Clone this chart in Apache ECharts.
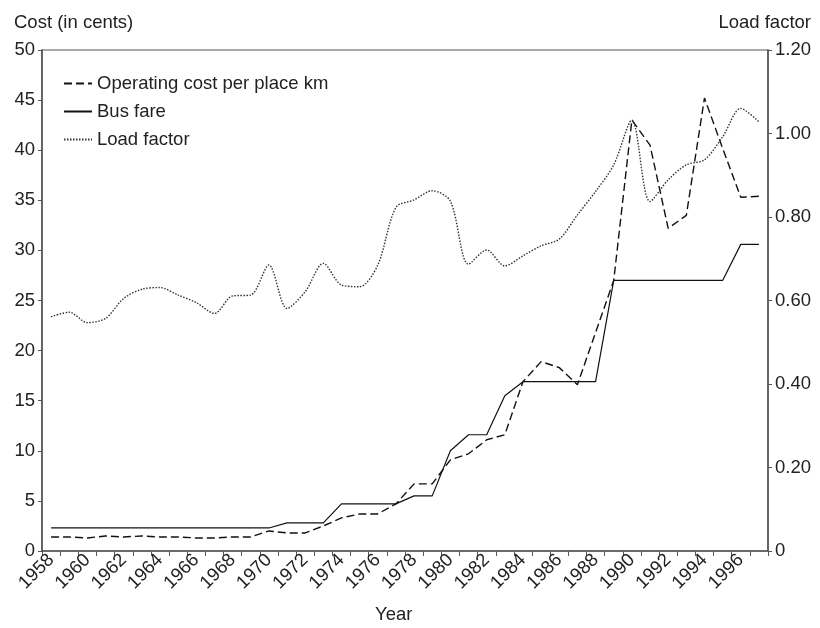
<!DOCTYPE html>
<html>
<head>
<meta charset="utf-8">
<script src="https://cdn.jsdelivr.net/npm/echarts@6/dist/echarts.min.js"></script>
<style>
html,body{margin:0;padding:0;background:#fff;}
#chart{width:820px;height:628px;}
</style>
</head>
<body>
<div id="chart"></div>
<script>
var years = ['1958','1959','1960','1961','1962','1963','1964','1965','1966','1967',
  '1968','1969','1970','1971','1972','1973','1974','1975','1976','1977',
  '1978','1979','1980','1981','1982','1983','1984','1985','1986','1987',
  '1988','1989','1990','1991','1992','1993','1994','1995','1996','1997'];

var operatingCost = [1.4,1.4,1.3,1.5,1.4,1.5,1.4,1.4,1.3,1.3,
  1.4,1.4,2.0,1.8,1.8,2.5,3.3,3.7,3.7,4.7,
  6.7,6.7,9.1,9.7,11.1,11.6,16.9,18.9,18.3,16.6,
  21.8,27.0,43.0,40.5,32.2,33.5,45.2,40.2,35.3,35.4];

var busFare = [2.3,2.3,2.3,2.3,2.3,2.3,2.3,2.3,2.3,2.3,
  2.3,2.3,2.3,2.8,2.8,2.8,4.7,4.7,4.7,4.7,
  5.5,5.5,10.0,11.6,11.6,15.5,16.9,16.9,16.9,16.9,
  16.9,27.0,27.0,27.0,27.0,27.0,27.0,27.0,30.6,30.6];

var loadFactor = [0.561,0.572,0.547,0.557,0.605,0.627,0.631,0.613,0.595,0.569,
  0.611,0.613,0.685,0.581,0.621,0.689,0.637,0.633,0.685,0.823,
  0.841,0.863,0.838,0.687,0.721,0.683,0.707,0.731,0.747,0.805,
  0.861,0.925,1.032,0.837,0.889,0.925,0.937,0.992,1.060,1.028];

var FONT = "'Liberation Sans', Arial, sans-serif";
var TXT = '#222';
var AX = '#555';

var chart = echarts.init(document.getElementById('chart'));
chart.setOption({
  animation: false,
  backgroundColor: '#fff',
  textStyle: {fontFamily: FONT, color: TXT},
  title: [
    {text: 'Cost (in cents)', left: 9, top: 8, textStyle: {fontFamily: FONT, fontSize: 18.5, fontWeight: 'normal', color: TXT}},
    {text: 'Load factor', right: 4, top: 8, textStyle: {fontFamily: FONT, fontSize: 18.5, fontWeight: 'normal', color: TXT}},
    {text: 'Year', left: 370, top: 600, textStyle: {fontFamily: FONT, fontSize: 18.5, fontWeight: 'normal', color: TXT}}
  ],
  legend: {
    orient: 'vertical',
    left: 58,
    top: 69,
    itemWidth: 28,
    itemHeight: 14,
    itemGap: 9,
    itemStyle: {color: 'transparent', borderColor: 'transparent', borderWidth: 0, opacity: 0},
    textStyle: {fontFamily: FONT, fontSize: 18.5, color: TXT},
    data: ['Operating cost per place km', 'Bus fare', 'Load factor']
  },
  grid: {
    left: 42, right: 52, top: 50, bottom: 77,
    show: true, borderColor: AX, borderWidth: 1.2, backgroundColor: 'transparent'
  },
  xAxis: {
    type: 'category',
    data: years,
    boundaryGap: true,
    axisLine: {lineStyle: {color: AX, width: 1.5}},
    axisTick: {show: true, interval: 0, length: 5, lineStyle: {color: AX}},
    axisLabel: {interval: 1, rotate: 45, margin: 6, fontFamily: FONT, fontSize: 18.5, color: TXT},
    splitLine: {show: false}
  },
  yAxis: [
    {
      type: 'value', min: 0, max: 50, interval: 5, position: 'left',
      axisLine: {show: true, lineStyle: {color: AX, width: 1.5}},
      axisTick: {show: true, length: 4, lineStyle: {color: AX}},
      axisLabel: {margin: 7, fontFamily: FONT, fontSize: 18.5, color: TXT},
      splitLine: {show: false}
    },
    {
      type: 'value', min: 0, max: 1.2, interval: 0.2, position: 'right',
      axisLine: {show: true, lineStyle: {color: AX, width: 1.5}},
      axisTick: {show: true, length: 4, lineStyle: {color: AX}},
      axisLabel: {
        margin: 7, fontFamily: FONT, fontSize: 18.5, color: TXT,
        formatter: function (v) { return v === 0 ? '0' : v.toFixed(2); }
      },
      splitLine: {show: false}
    }
  ],
  series: [
    {
      name: 'Operating cost per place km', type: 'line', yAxisIndex: 0,
      data: operatingCost, symbol: 'none', showSymbol: false,
      lineStyle: {color: '#111', width: 1.4, type: [8, 4]},
      itemStyle: {color: '#111'}
    },
    {
      name: 'Bus fare', type: 'line', yAxisIndex: 0,
      data: busFare, symbol: 'none', showSymbol: false,
      lineStyle: {color: '#111', width: 1.2, type: 'solid'},
      itemStyle: {color: '#111'}
    },
    {
      name: 'Load factor', type: 'line', yAxisIndex: 1,
      data: loadFactor, symbol: 'none', showSymbol: false, smooth: 0.3,
      lineStyle: {color: '#333', width: 1.4, type: [1.5, 1.5]},
      itemStyle: {color: '#333'}
    }
  ]
});
</script>
</body>
</html>
